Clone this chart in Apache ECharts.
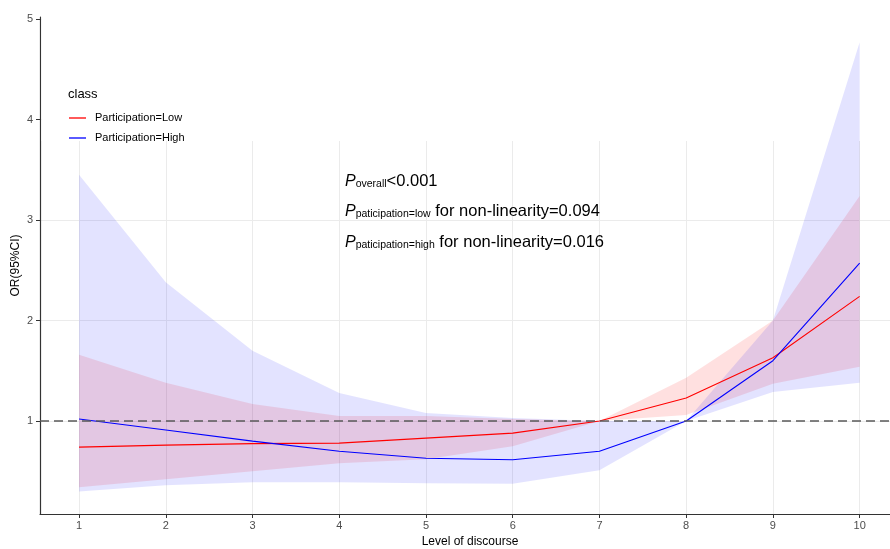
<!DOCTYPE html>
<html lang="en">
<head>
    <meta charset="UTF-8">
    <title>RCS OR curve</title>
    <script type="text/javascript" src="https://cdn.jsdelivr.net/npm/echarts@6.0.0/dist/echarts.min.js"></script>
    <style>
        html, body { margin: 0; padding: 0; background: #fff; }
    </style>
</head>
<body>
  <div id="main" style="width: 890px;height: 549px;"></div>
</body>
<script>
    // data
    var levels = [1, 2, 3, 4, 5, 6, 7, 8, 9, 10];
    var xTicks = [1, 2, 3, 4, 5, 6, 7, 8, 9, 10];
    var yTicks = [1, 2, 3, 4, 5];

    var lowOR    = [0.74, 0.76, 0.775, 0.78, 0.83, 0.88, 1.0, 1.23, 1.63, 2.24];
    var lowLower = [0.34, 0.42, 0.50, 0.58, 0.62, 0.75, 1.0, 1.06, 1.37, 1.54];
    var lowUpper = [1.66, 1.38, 1.17, 1.05, 1.05, 1.02, 1.0, 1.43, 2.0, 3.24];

    var highOR    = [1.02, 0.91, 0.80, 0.70, 0.63, 0.615, 0.70, 1.0, 1.60, 2.57];
    var highLower = [0.30, 0.36, 0.39, 0.39, 0.38, 0.375, 0.51, 1.0, 1.29, 1.38];
    var highUpper = [3.45, 2.38, 1.70, 1.28, 1.08, 1.03, 1.0, 1.0, 2.0, 4.77];

    var refLine = 1;

    function pairs(ys) {
        return levels.map(function (x, i) { return [x, ys[i]]; });
    }

    // confidence band as one polygon, placed through the axes
    function ribbon(name, lo, up, color) {
        return {
            name: name, type: 'custom', silent: true, z: 2,
            renderItem: function (params, api) {
                var pts = [];
                for (var i = 0; i < levels.length; i++) pts.push(api.coord([levels[i], up[i]]));
                for (var j = levels.length - 1; j >= 0; j--) pts.push(api.coord([levels[j], lo[j]]));
                return { type: 'polygon', shape: { points: pts }, style: { fill: color } };
            },
            data: [[levels[0], lo[0]]]
        };
    }

    var axisFont = 'Liberation Sans';
    var myChart = echarts.init(document.getElementById('main'));

    var option = {
        animation: false,
        backgroundColor: '#fff',
        grid: { left: 40, right: 0, top: 17, bottom: 35, outerBoundsMode: 'none', containLabel: false },
        legend: {
            orient: 'vertical',
            left: 69,
            top: 111,
            padding: 0,
            icon: 'rect',
            itemWidth: 17,
            itemHeight: 1.3,
            itemGap: 6,
            data: ['Participation=Low', 'Participation=High'],
            textStyle: { fontFamily: axisFont, fontSize: 11, lineHeight: 14, color: '#000', padding: [0, 0, 0, 4] }
        },
        xAxis: {
            type: 'value',
            min: 0.55,
            max: 10.35,
            name: 'Level of discourse',
            nameLocation: 'middle',
            nameGap: 21,
            nameTextStyle: { fontFamily: axisFont, fontSize: 12, color: '#000', padding: [0, 0, 0, 10] },
            axisLine: { show: true, onZero: false, lineStyle: { color: '#333', width: 1.2 } },
            axisTick: { show: true, length: 4, customValues: xTicks, lineStyle: { color: '#333' } },
            axisLabel: { customValues: xTicks, margin: 6, fontFamily: axisFont, fontSize: 11, color: '#4d4d4d' },
            splitLine: { show: true, lineStyle: { color: '#ebebeb', width: 1 } }
        },
        yAxis: {
            type: 'value',
            min: 0.075,
            max: 5.02,
            name: 'OR(95%CI)',
            nameLocation: 'middle',
            nameGap: 18,
            nameMoveOverlap: false,
            nameTextStyle: { fontFamily: axisFont, fontSize: 12, color: '#000' },
            axisLine: { show: true, onZero: false, lineStyle: { color: '#333', width: 1.2 } },
            axisTick: { show: true, length: 4, customValues: yTicks, lineStyle: { color: '#333' } },
            axisLabel: { customValues: yTicks, margin: 7, fontFamily: axisFont, fontSize: 11, color: '#4d4d4d' },
            splitLine: { show: true, lineStyle: { color: '#ebebeb', width: 1 } }
        },
        graphic: [
            // upper panel area is blank in the original (no grid lines there)
            { type: 'rect', z: 1, silent: true, shape: { x: 41.5, y: 0, width: 850, height: 141 }, style: { fill: '#fff' } },
            { type: 'text', z: 10, left: 68, top: 88, style: { text: 'class', fontFamily: axisFont, fontSize: 13, fill: '#000' } },
            {
                type: 'text', z: 10, left: 345, top: 172.5,
                style: {
                    text: '{p|P}{s|overall}{t|<0.001}\n{p|P}{s|paticipation=low}{t| for non-linearity=0.094}\n{p|P}{s|paticipation=high}{t| for non-linearity=0.016}',
                    fill: '#000',
                    rich: {
                        p: { fontFamily: axisFont, fontStyle: 'italic', fontSize: 16, lineHeight: 30.5, verticalAlign: 'bottom', fill: '#000' },
                        s: { fontFamily: axisFont, fontSize: 10.5, lineHeight: 18, verticalAlign: 'bottom', fill: '#000' },
                        t: { fontFamily: axisFont, fontSize: 16.5, lineHeight: 30.5, verticalAlign: 'bottom', fill: '#000' }
                    }
                }
            }
        ],
        series: [
            ribbon('lowCI', lowLower, lowUpper, 'rgba(255,0,0,0.12)'),
            ribbon('highCI', highLower, highUpper, 'rgba(0,0,255,0.11)'),
            {
                name: 'Participation=Low', type: 'line', symbol: 'none', z: 3,
                lineStyle: { color: '#f00', width: 1.1 }, itemStyle: { color: '#f00' },
                data: pairs(lowOR)
            },
            {
                name: 'Participation=High', type: 'line', symbol: 'none', z: 3,
                lineStyle: { color: '#00f', width: 1.1 }, itemStyle: { color: '#00f' },
                data: pairs(highOR),
                markLine: {
                    silent: true, symbol: 'none', label: { show: false },
                    lineStyle: { color: '#5a5a5a', type: [9, 5], width: 1.6 },
                    data: [{ yAxis: refLine }]
                }
            }
        ]
    };

    myChart.setOption(option);
</script>
</html>
